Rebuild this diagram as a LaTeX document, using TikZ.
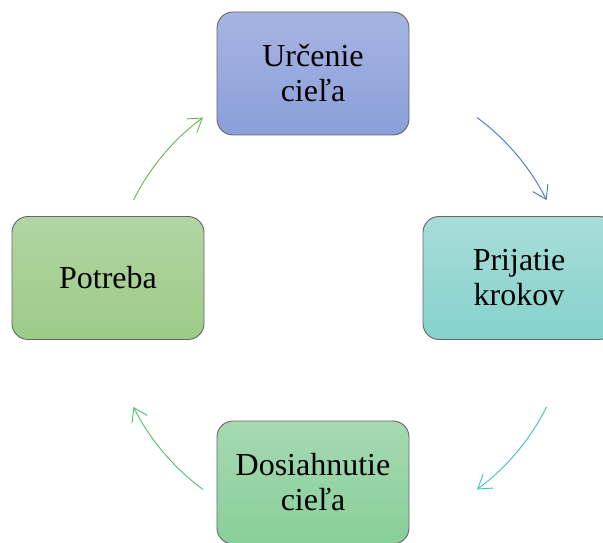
\documentclass[tikz,border=0pt]{standalone}
\usepackage{fontspec}
\setmainfont{Liberation Serif}
\usetikzlibrary{arrows.meta}

\definecolor{goalTop}{HTML}{A7B4E2}
\definecolor{goalBot}{HTML}{8A9FD9}
\definecolor{stepTop}{HTML}{A7DDD9}
\definecolor{stepBot}{HTML}{86D2CC}
\definecolor{needTop}{HTML}{B2D5A3}
\definecolor{needBot}{HTML}{9CCB87}
\definecolor{doneTop}{HTML}{A6D9B1}
\definecolor{doneBot}{HTML}{88CF9A}
\definecolor{arrBlue}{HTML}{4A70D0}
\definecolor{arrTeal}{HTML}{3EC2B9}
\definecolor{arrGreen}{HTML}{4DBF6B}
\definecolor{arrLime}{HTML}{6AB24C}

\tikzset{
  stage/.style={draw=black!60, line width=0.9pt, rounded corners=16pt,
    minimum width=192pt, minimum height=123pt, align=center,
    font=\fontsize{32}{35}\selectfont},
  flow/.style={line width=0.9pt, -{Straight Barb[length=13pt,width=17pt,line width=0.9pt]}}
}

\begin{document}
\begin{tikzpicture}[x=1pt,y=1pt]
\useasboundingbox (0,0) rectangle (603,542);
\clip (0,0) rectangle (603,542);

\node[stage, top color=goalTop, bottom color=goalBot] (goal) at (313,468.5) {Určenie\\cieľa};
\node[stage, top color=stepTop, bottom color=stepBot] (steps) at (519,264) {Prijatie\\krokov};
\node[stage, top color=doneTop, bottom color=doneBot] (done) at (313,59.5) {Dosiahnutie\\cieľa};
\node[stage, top color=needTop, bottom color=needBot] (need) at (108,264) {Potreba};

% arcs around the cycle
\coordinate (hub) at (340,238.5);
\path (hub) ++(53.6:231) coordinate (goalout);
\path (hub) ++(-26.6:231) coordinate (stepsout);
\path (hub) ++(-126.4:231) coordinate (doneout);
\path (hub) ++(153.4:231) coordinate (needout);

\draw[flow, arrBlue] (goalout) arc[start angle=53.6, end angle=26.6, radius=231];
\draw[flow, arrTeal] (stepsout) arc[start angle=-26.6, end angle=-53.6, radius=231];
\draw[flow, arrGreen] (doneout) arc[start angle=-126.4, end angle=-153.4, radius=231];
\draw[flow, arrLime] (needout) arc[start angle=153.4, end angle=126.4, radius=231];
\end{tikzpicture}
\end{document}
